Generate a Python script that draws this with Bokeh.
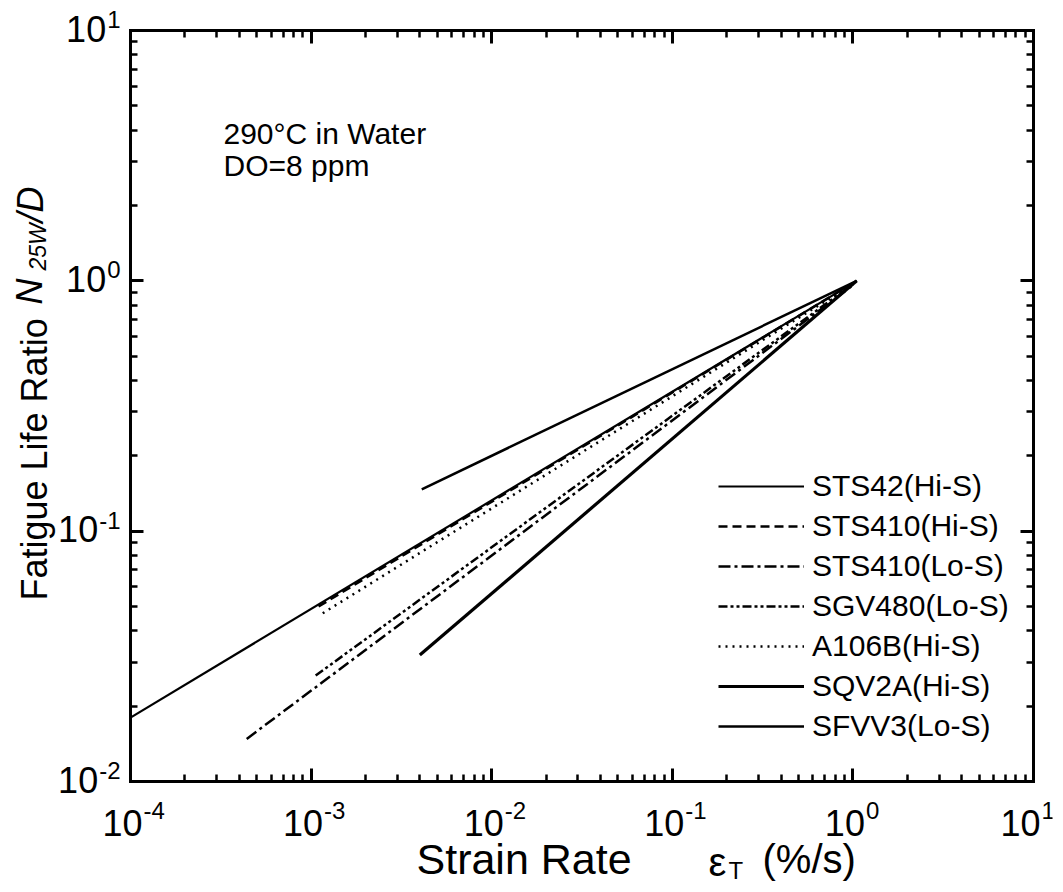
import math
from bokeh.plotting import figure
from bokeh.models import (LogAxis, FixedTicker, Label, Legend, LegendItem, Range1d,
                          CustomJSTickFormatter)
from bokeh.embed import file_html
from bokeh.resources import INLINE

# ---------------- data ----------------
series_names = ["STS42(Hi-S)", "STS410(Hi-S)", "STS410(Lo-S)", "SGV480(Lo-S)",
                "A106B(Hi-S)", "SQV2A(Hi-S)", "SFVV3(Lo-S)"]
rate_start = [1.0e-4, 1.1e-3, 4.4e-4, 1.06e-3, 1.16e-3, 4.0e-3, 4.1e-3]
ratio_start = [0.018, 0.050, 0.0148, 0.0265, 0.047, 0.032, 0.147]
rate_end = [1.05, 1.05, 1.0, 1.0, 1.0, 1.05, 1.05]
ratio_end = [1.0, 1.0, 0.96, 0.97, 0.97, 1.0, 1.0]
x_exponents = [-4, -3, -2, -1, 0, 1]
y_exponents = [-2, -1, 0, 1]
XMIN, XMAX = 1e-4, 10.0
YMIN, YMAX = 1e-2, 10.0

# ---------------- styles / geometry ----------------
dashes = ["solid", "9 5", "12 4 3 4", "9 3 3 3 3 3", "2 5", "solid", "solid"]
widths = [2.2, 2.5, 2.5, 2.5, 2.5, 3.2, 2.5]
FONT = "Liberation Sans"

W, H = 1054, 884
B = 2
BOX_L, BOX_R, BOX_T, BOX_B = 130, 1033, 30, 781
FL, FR, FT, FB = B, W - B, B, H - B
xdec = (BOX_R - BOX_L) / (math.log10(XMAX) - math.log10(XMIN))
ydec = (BOX_B - BOX_T) / (math.log10(YMAX) - math.log10(YMIN))
x0 = 10 ** (math.log10(XMIN) - (BOX_L - FL) / xdec)
x1 = 10 ** (math.log10(XMAX) + (FR - BOX_R) / xdec)
y0 = 10 ** (math.log10(YMIN) - (FB - BOX_B) / ydec)
y1 = 10 ** (math.log10(YMAX) + (BOX_T - FT) / ydec)

p = figure(width=W, height=H, x_axis_type="log", y_axis_type="log",
           x_range=Range1d(x0, x1), y_range=Range1d(y0, y1),
           output_backend="svg", toolbar_location=None,
           min_border_left=B, min_border_top=B,
           min_border_right=B, min_border_bottom=B)
p.outline_line_color = None
p.grid.visible = False
p.background_fill_color = "white"
p.border_fill_color = "white"

major_x = [10.0 ** e for e in x_exponents]
minor_x = [k * 10.0 ** e for e in x_exponents[:-1] for k in range(2, 10)]
major_y = [10.0 ** e for e in y_exponents]
minor_y = [k * 10.0 ** e for e in y_exponents[:-1] for k in range(2, 10)]

bottom_ax = p.below[0]
left_ax = p.left[0]
top_ax = LogAxis()
right_ax = LogAxis()
p.add_layout(top_ax, "above")
p.add_layout(right_ax, "right")

for ax, loc in ((bottom_ax, YMIN), (top_ax, YMAX)):
    ax.ticker = FixedTicker(ticks=major_x, minor_ticks=minor_x)
    ax.fixed_location = loc
    ax.bounds = (XMIN, XMAX)
for ax, loc in ((left_ax, XMIN), (right_ax, XMAX)):
    ax.ticker = FixedTicker(ticks=major_y, minor_ticks=minor_y)
    ax.fixed_location = loc
    ax.bounds = (YMIN, YMAX)

for ax in (bottom_ax, left_ax, top_ax, right_ax):
    ax.axis_line_width = 3
    ax.axis_line_color = "black"
    ax.axis_line_cap = "square"
    # ticks pointing into the box (drawn through the "out" branch with a negative length)
    ax.major_tick_in = 0
    ax.major_tick_out = -13
    ax.minor_tick_in = 0
    ax.minor_tick_out = -7
    ax.major_tick_line_color = "black"
    ax.minor_tick_line_color = "black"
    ax.major_tick_line_width = 3
    ax.minor_tick_line_width = 2.5
    ax.formatter = CustomJSTickFormatter(code="return ''")
    ax.major_label_text_font_size = "1px"
    ax.major_label_standoff = 0

# ---------------- lines ----------------
items = []
for i, name in enumerate(series_names):
    r = p.line([rate_start[i], rate_end[i]], [ratio_start[i], ratio_end[i]],
               line_color="black", line_width=widths[i], line_dash=dashes[i])
    items.append(LegendItem(label=name, renderers=[r]))

legend = Legend(items=items, location=(718 - FL, FB - 743), label_text_font=FONT,
                label_text_font_size="30px", label_text_color="black",
                glyph_width=86, glyph_height=34,
                label_height=34, spacing=6, padding=0, margin=0,
                label_standoff=8, border_line_color=None,
                background_fill_alpha=0)
p.add_layout(legend)


# ---------------- texts (anchored at data points, pixel offsets) ----------------
def put(text, ix, iy, size, style="normal", align="left", angle=0.0,
        ax=XMIN, ay=YMIN):
    # (ix, iy): pixel position of the text's vertical middle
    bx = BOX_L + (math.log10(ax) - math.log10(XMIN)) * xdec
    by = BOX_B - (math.log10(ay) - math.log10(YMIN)) * ydec
    p.add_layout(Label(x=ax, y=ay, x_units="data", y_units="data",
                       x_offset=ix - bx, y_offset=by - iy,
                       text=text, angle=angle, text_align=align,
                       text_baseline="middle", text_font=FONT,
                       text_font_size=f"{size}px", text_font_style=style,
                       text_color="black"))


def cw(s, size):
    wmap = {"-": 0.333}
    return sum(wmap.get(c, 0.556) for c in s) * size


TS, SS = 36, 24
for e in x_exponents:
    tx = BOX_L + (e - math.log10(XMIN)) * xdec
    shift = -5 if e == x_exponents[-1] else 0
    put("10", tx + 12 + shift, 822, TS, align="right", ax=10.0 ** e)
    put(str(e), tx + 13 + shift, 810, SS, align="left", ax=10.0 ** e)

for e in y_exponents:
    ty = BOX_B - (e - math.log10(YMIN)) * ydec
    sw = cw(str(e), SS)
    put(str(e), 120, ty - 11, SS, align="right", ay=10.0 ** e)
    put("10", 120 - sw - 1, ty - 2, TS, align="right", ay=10.0 ** e)

# y axis title (rotated, reading upwards)
R = math.pi / 2
put("Fatigue Life Ratio", 34, 600, 36, angle=R)
put("N", 29, 304, 36, style="italic", angle=R)
put("25W", 37, 270, 23, style="italic", angle=R)
put("/D", 30, 222, 36, style="italic", angle=R)

# x axis title
put("Strain Rate", 416, 858, 43)
put("\u03b5", 708, 861, 40)
put("T", 728, 870, 24)
put("(%/s)", 762, 858, 40)

# annotation
put("290\u00b0C in Water", 223, 133, 30)
put("DO=8 ppm", 223, 165, 30)

open("out.html", "w").write(file_html(p, INLINE))
